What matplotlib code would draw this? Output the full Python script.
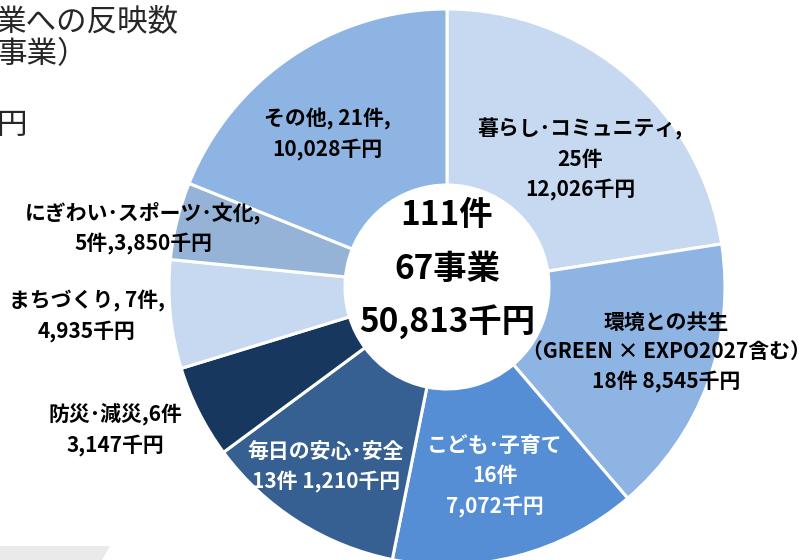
"""Donut chart: 件数・金額の内訳 (reference recreation)."""

import matplotlib

matplotlib.use("Agg")
import matplotlib.pyplot as plt
from matplotlib.patches import Polygon

plt.rcParams["font.family"] = ["Noto Sans CJK JP", "DejaVu Sans"]

# data
categories = [
    "暮らし･コミュニティ",
    "環境との共生\n（GREEN × EXPO2027含む）",
    "こども･子育て",
    "毎日の安心･安全",
    "防災･減災",
    "まちづくり",
    "にぎわい･スポーツ･文化",
    "その他",
]
counts = [25, 18, 16, 13, 6, 7, 5, 21]
amounts = [12026, 8545, 7072, 1210, 3147, 4935, 3850, 10028]
n_projects = 67

colors = ["#C6D9F1", "#8EB4E3", "#558ED5", "#376092",
          "#17375E", "#C6D9F1", "#95B3D7", "#8EB4E3"]

# label templates and placement (pixel coords, y from top)
label_fmt = [
    "{c},\n{n}件\n{a:,}千円",
    "{c}\n{n}件 {a:,}千円",
    "{c}\n{n}件\n{a:,}千円",
    "{c}\n{n}件 {a:,}千円",
    "{c},{n}件\n{a:,}千円",
    "{c}, {n}件,\n{a:,}千円",
    "{c},\n{n}件,{a:,}千円",
    "{c}, {n}件,\n{a:,}千円",
]
label_pos = [(580, 159), (666, 352), (495, 476), (326, 467),
             (115, 429), (87, 316), (143, 228), (327, 134)]
label_color = ["black", "black", "white", "white",
               "black", "black", "black", "black"]

W, H = 799, 560
CX, CY = 447, 287
R_OUT, R_IN = 278, 102


def py(y):
    return H - y


fig = plt.figure(figsize=(W / 100, H / 100), dpi=100)
ax = fig.add_axes([0, 0, 1, 1])

ax.pie(counts, colors=colors, startangle=90, counterclock=False,
       radius=R_OUT, center=(CX, py(CY)),
       wedgeprops=dict(width=R_OUT - R_IN, edgecolor="white", linewidth=2.2))
ax.set_xlim(0, W)
ax.set_ylim(0, H)
ax.axis("off")

for c, n, a, fmt, (x, y), col in zip(categories, counts, amounts,
                                     label_fmt, label_pos, label_color):
    ax.text(x, py(y), fmt.format(c=c, n=n, a=a), ha="center", va="center",
            fontsize=15, fontweight="bold", color=col, linespacing=1.5)

# centre totals
center_lines = [f"{sum(counts)}件", f"{n_projects}事業", f"{sum(amounts):,}千円"]
for txt, y in zip(center_lines, [215, 269, 322]):
    ax.text(CX, py(y), txt, ha="center", va="center",
            fontsize=24, fontweight="bold", color="black")

# cut-off slide title fragments
title_color = "#262626"
ax.text(-4, py(22), "業への反映数", ha="left", va="center", fontsize=22, color=title_color)
ax.text(-4, py(55), "事業）", ha="left", va="center", fontsize=22, color=title_color)
ax.text(-4, py(125), "円", ha="left", va="center", fontsize=22, color=title_color)

# grey footer shape
ax.add_patch(Polygon([(0, py(546)), (110, py(546)), (102, 0), (0, 0)],
                     closed=True, facecolor="#EAEAEA", edgecolor="none"))

fig.savefig("out.png", dpi=100)
